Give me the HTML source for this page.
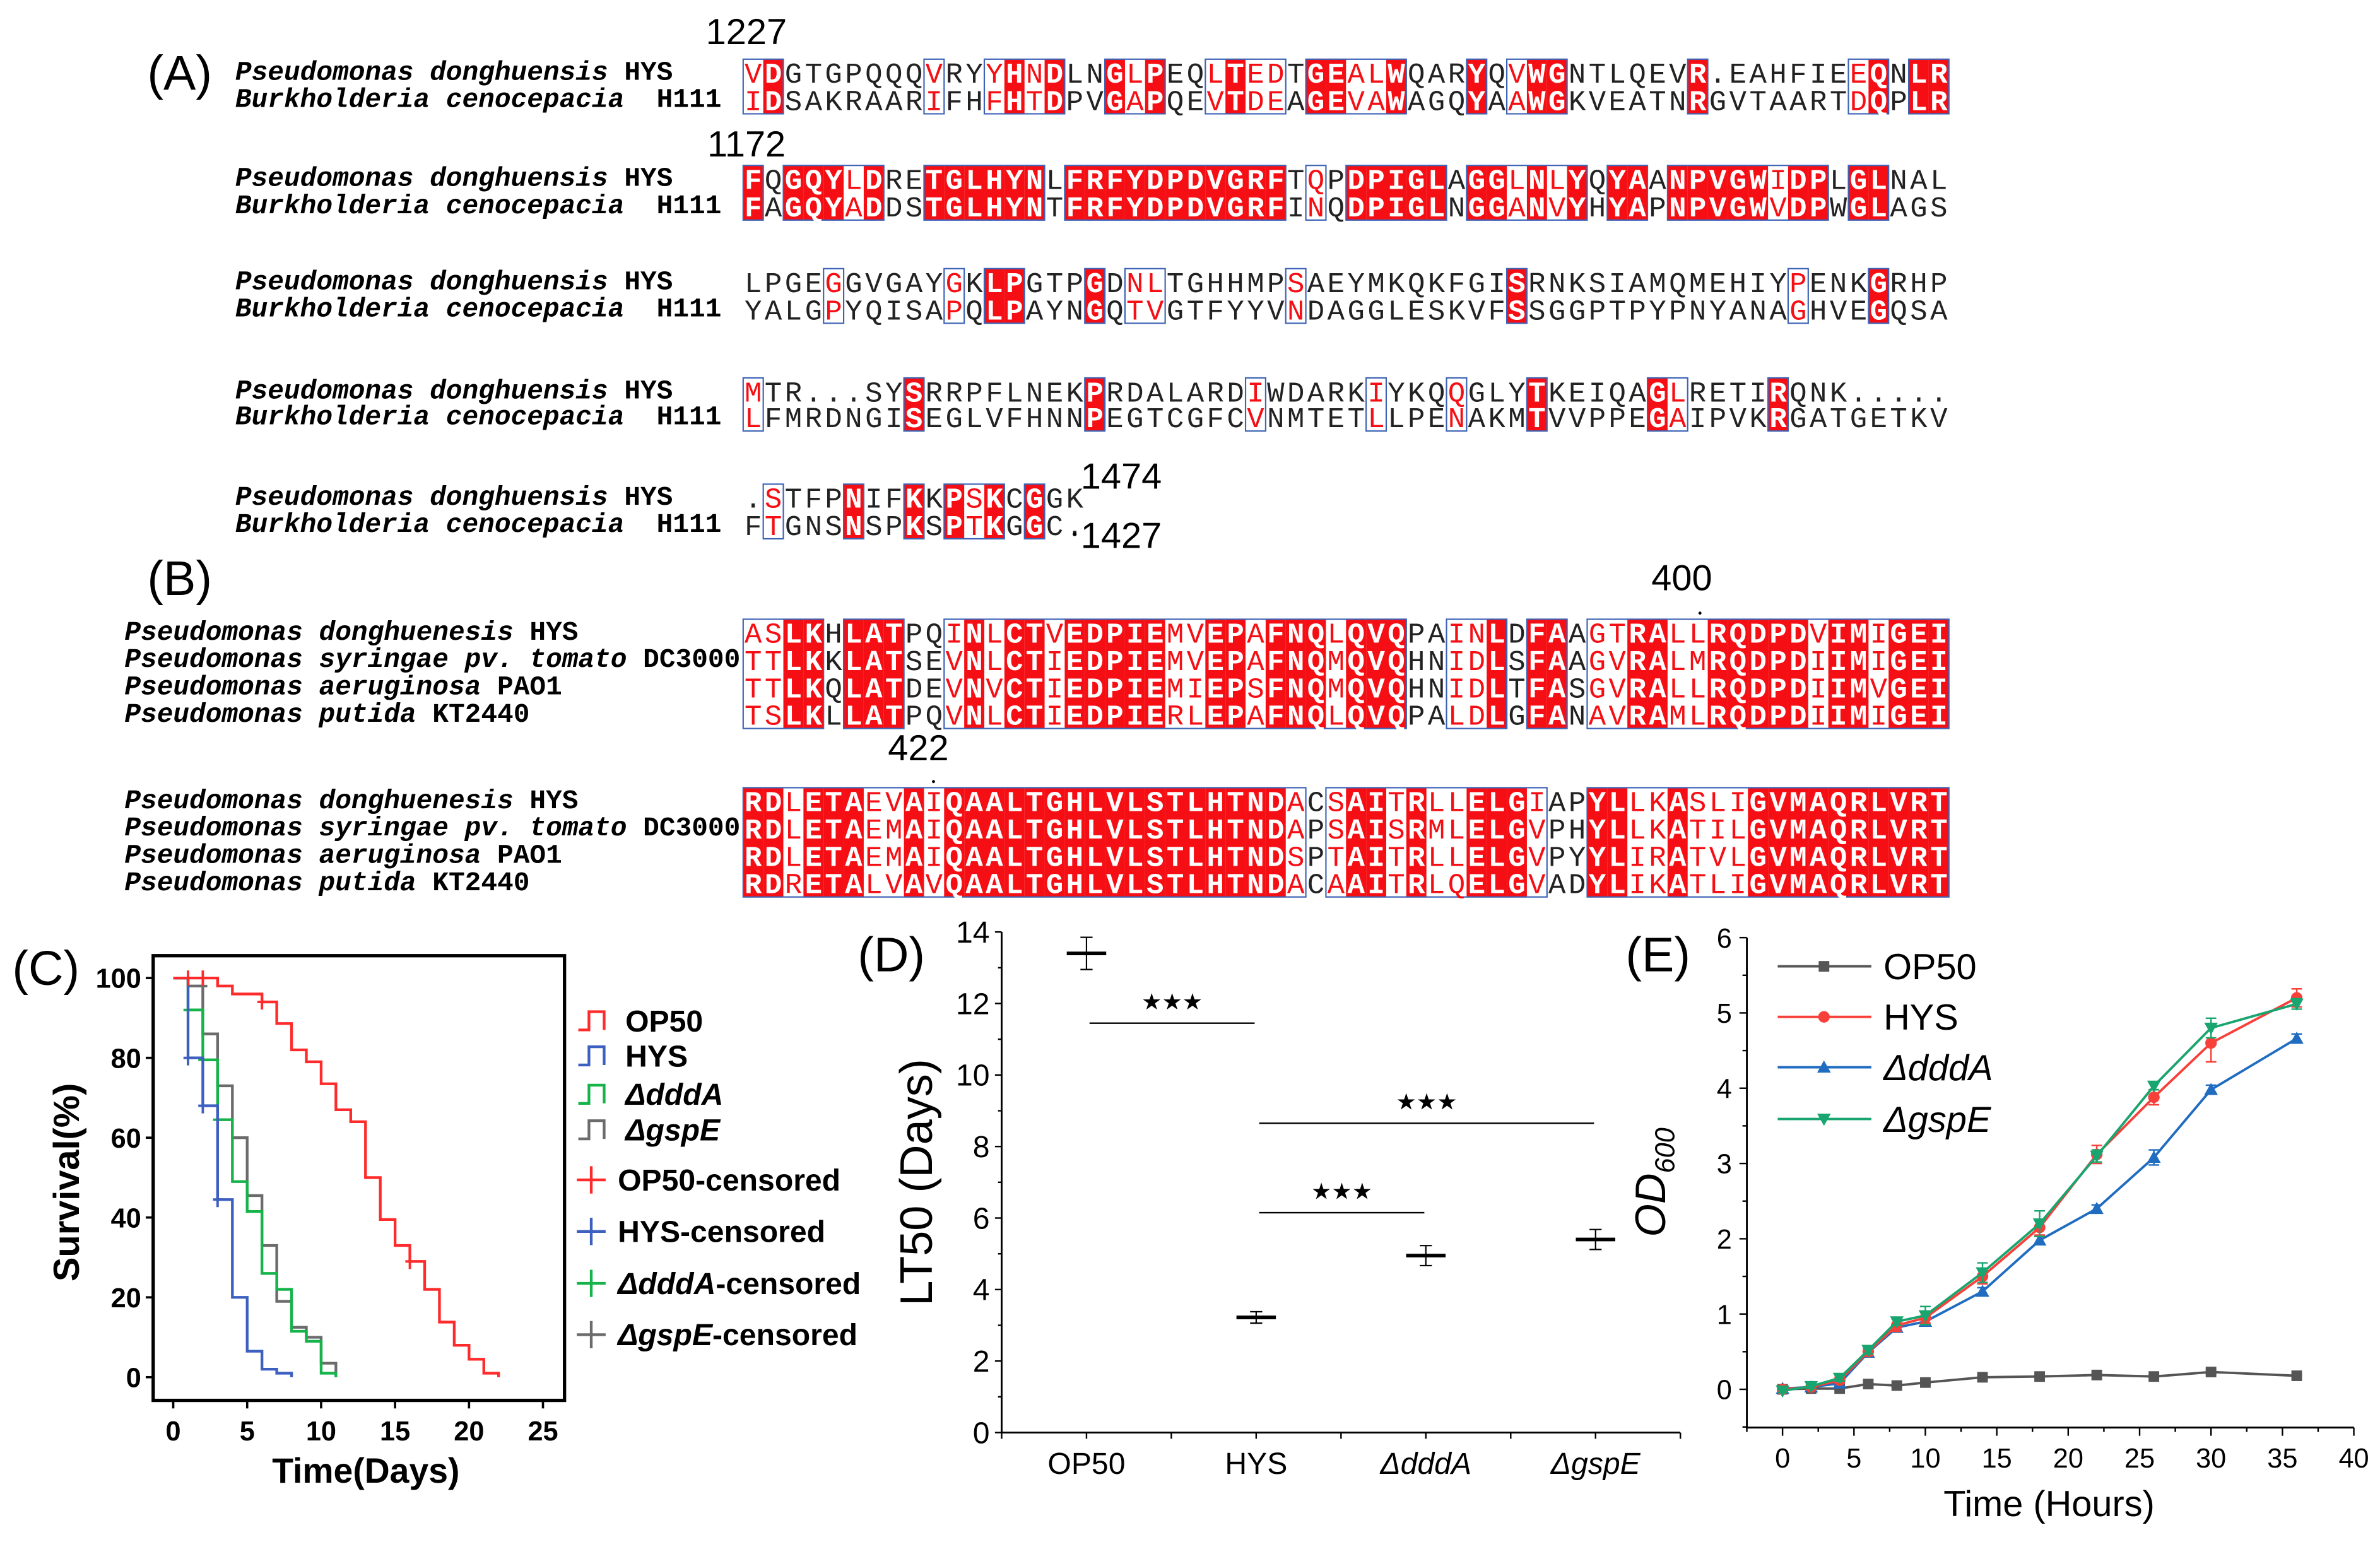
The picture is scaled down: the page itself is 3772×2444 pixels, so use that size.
<!DOCTYPE html>
<html><head><meta charset="utf-8">
<style>
html,body{margin:0;padding:0;background:#fff;}
svg{display:block;}
.mono{font-family:"Liberation Mono",monospace;}
.sans{font-family:"Liberation Sans",sans-serif;}
.narrow{font-family:"Liberation Sans Narrow","Liberation Sans",sans-serif;font-weight:bold;}
.pre{white-space:pre;}
</style></head>
<body>
<svg id="fig" width="3772" height="2444" viewBox="0 0 1568 1016" xmlns="http://www.w3.org/2000/svg">
<g id="alnA"></g>
<g id="alnB"></g>
<g id="chartC"></g>
<g id="chartD"></g>
<g id="chartE"></g>
<g class="sans" font-size="32" fill="#000">
<text x="97" y="59">(A)</text>
<text x="97" y="392">(B)</text>
<text x="8" y="649">(C)</text>
<text x="565" y="640">(D)</text>
<text x="1071" y="640">(E)</text>
</g>
<g class="sans" font-size="24" fill="#000">
<text x="465" y="29">1227</text>
<text x="466" y="103">1172</text>
<text x="712" y="322">1474</text>
<text x="712" y="361">1427</text>
<text x="1088" y="389">400</text>
<text x="585" y="501">422</text>
<circle cx="1120" cy="404" r="1"/>
<circle cx="615" cy="515" r="1"/>
<circle cx="708" cy="352" r="1.3"/>
</g>
</svg>
<script>
// ---------- Alignment data ----------
const alnAData = [
 {rows:["VDGTGPQQQVRYYHNDLNGLPEQLTEDTGEALWQARYQVWGNTLQEVR.EAHFIEEQNLR","IDSAKRAARIFHFHTDPVGAPQEVTDEAGEVAWAGQYAAWGKVEATNRGVTAARTDQPLR"],
  mask:"rR.......r..rRrR..RrR..rRrr.RRrrR...R.rRR......R.......rR.RR", ys:[48,66]},
 {rows:["FQGQYLDRETGLHYNLFRFYDPDVGRFTQPDPIGLAGGLNLYQYAANPVGWIDPLGLNAL","FAGQYADDSTGLHYNTFRFYDPDVGRFINQDPIGLNGGANVYHYAPNPVGWVDPWGLAGS"],
  mask:"R.RRRrR..RRRRRR.RRRRRRRRRRR.r.RRRRR.RRrRrR.RR.RRRRRrRR.RR...", ys:[118,136]},
 {rows:["LPGEGGVGAYGKLPGTPGDNLTGHHMPSAEYMKQKFGISRNKSIAMQMEHIYPENKGRHP","YALGPYQISAPQLPAYNGQTVGTFYYVNDAGGLESKVFSSGGPTPYPNYANAGHVEGQSA"],
  mask:"....r.....r.RR...R.rr......r..........R.............r...R...", ys:[186,204]},
 {rows:["MTR...SYSRRPFLNEKPRDALARDIWDARKIYKQQGLYTKEIQAGLRETIRQNK.....","LFMRDNGISEGLVFHNNPEGTCGFCVNMTETLLPENAKMTVVPPEGAIPVKRGATGETKV"],
  mask:"r.......R........R.......r.....r...r...R.....Rr....R........", ys:[258,275]},
 {rows:[".STFPNIFKKPSKCGGK","FTGNSNSPKSPTKGGC."],
  mask:".r...R..R.RrR.R..", ys:[328,346]}
];
const alnANames = [["Pseudomonas donghuensis ","HYS"],["Burkholderia cenocepacia  ","H111"]];
const alnBData = [
 {rows:["ASLKHLATPQINLCTVEDPIEMVEPAFNQLQVQPAINLDFAAGTRALLRQDPDVIMIGEI","TTLKKLATSEVNLCTIEDPIEMVEPAFNQMQVQHNIDLSFAAGVRALMRQDPDIIMIGEI","TTLKQLATDEVNVCTIEDPIEMIEPSFNQMQVQHNIDLTFASGVRALLRQDPDIIMVGEI","TSLKLLATPQVNLCTIEDPIERLEPAFNQLQVQPALDLGFANAVRAMLRQDPDIIMIGEI"],
  mask:"rrRR.RRR..rRrRRrRRRRRrrRRrRRRrRRR..rrR.RR.rrRRrrRRRRRrRRrRRR", ys:[417,435,453,471]},
 {rows:["RDLETAEVAIQAALTGHLVLSTLHTNDACSAITRLLELGIAPYLLKASLIGVMAQRLVRT","RDLETAEMAIQAALTGHLVLSTLHTNDAPSAISRMLELGVPHYLLKATILGVMAQRLVRT","RDLETAEMAIQAALTGHLVLSTLHTNDSPTAITRLLELGVPYYLIRATVLGVMAQRLVRT","RDRETALVAVQAALTGHLVLSTLHTNDACAAITRLQELGVADYLIKATLIGVMAQRLVRT"],
  mask:"RRrRRRrrRrRRRRRRRRRRRRRRRRRr.rRRrRrrRRRr..RRrrRrrrRRRRRRRRRR", ys:[528,546,564,582]}
];
const alnBNames = [["Pseudomonas donghuenesis ","HYS"],["Pseudomonas syringae pv. tomato ","DC3000"],["Pseudomonas aeruginosa ","PAO1"],["Pseudomonas putida ","KT2440"]];

const NS="http://www.w3.org/2000/svg";
function mk(tag, attrs, parent){const e=document.createElementNS(NS,tag);for(const k in attrs)e.setAttribute(k,attrs[k]);parent.appendChild(e);return e;}
const RED="#f50f14", BLUE="#3e63b5";
const colX0=489.6, colW=13.24;

function drawAlignment(g, data, names, nameX){
  data.forEach((blk,bi)=>{
    const top=blk.ys[0]-9, bot=blk.ys[blk.ys.length-1]+9;
    const m=blk.mask;
    for(let c=0;c<m.length;c++){
      if(m[c]==='R'){
        const r=mk('rect',{x:colX0+c*colW,y:top,width:colW,height:bot-top,fill:RED},g);
        
        
      }
    }
    let c=0;
    while(c<m.length){
      if(m[c]!=='.'){let s=c;while(c<m.length&&m[c]!=='.')c++;
        const b=mk('rect',{x:colX0+s*colW,y:top,width:(c-s)*colW,height:bot-top,fill:'none',stroke:BLUE,'stroke-width':0.9},g);
        
        
      } else c++;
    }
    blk.rows.forEach((seq,ri)=>{
      const y=blk.ys[ri]+6.5;
      for(let k=0;k<seq.length;k++){
        const cls=m[k];
        const t=mk('text',{x:colX0+k*colW+colW/2,y:y,'text-anchor':'middle','font-size':19,class:'mono',
          fill: cls==='R'?'#fff':(cls==='r'?RED:'#222'),'font-weight':cls==='R'?'bold':'normal'},g);
        t.textContent=seq[k];
        
        
      }
      const nm=mk('text',{x:nameX,y:blk.ys[ri]+4.5,'font-size':17.8,class:'mono pre','font-weight':'bold',fill:'#000'},g);
      const ts1=mk('tspan',{'font-style':'italic'},nm);ts1.textContent=names[ri][0];
      const ts2=mk('tspan',{},nm);ts2.textContent=names[ri][1];
      
      
    });
  });
}
drawAlignment(document.getElementById('alnA'), alnAData, alnANames, 155);
drawAlignment(document.getElementById('alnB'), alnBData, alnBNames, 82);

// ---------- Chart C data ----------
const survSeries = ["OP50","HYS","ΔdddA","ΔgspE"];
const survOP50T = [0,3,4,6,7,8,9,10,11,12,13,14,15,16,17,18,19,20,21,22];
const survOP50V = [100,98,96,94,88.6,82,79,73.5,67,64,50,39.5,33,29,22,13.8,8,4.5,1,0];
const survHYST = [0,1,2,3,4,5,6,7,8];
const survHYSV = [100,80,68,44.5,20,6.5,2,1,0];
const survDddAT = [0,1,2,3,4,5,6,7,8,9,10,11];
const survDddAV = [100,92,79.5,64.5,49,41.5,26,22,11.5,9,1,0];
const survGspET = [0,1,2,3,4,5,6,7,8,9,10,11];
const survGspEV = [100,98,86,73,60,45.5,33,19,12.5,10,3.5,0];
const censOP50 = [[1,100],[2,100],[6,94],[16,29]];
const censHYS = [[1,80],[2,68],[3,44.5]];
const censDddA = [[1,92],[2,79.5],[3,64.5]];
const censGspE = [[2,98]];
const survXTicks = [0,5,10,15,20,25];
const survYTicks = [0,20,40,60,80,100];

(function(){
  const g=document.getElementById('chartC');
  const xS=d=>114.1+d*9.744, yS=v=>907.4-v*2.63;
  const cols=["#ff2b2b","#3c5fc0","#15b34a","#6b6b6b"];
  const fr=mk('rect',{x:100.9,y:629.7,width:271,height:293,fill:'none',stroke:'#000','stroke-width':2.2},g);
  
  
  survYTicks.forEach(v=>{
    const l=mk('line',{x1:100.9,x2:96,y1:yS(v),y2:yS(v),stroke:'#000','stroke-width':1.5},g);
    
    
    const t=mk('text',{x:93,y:yS(v)+6.5,'text-anchor':'end','font-size':18,class:'narrow'},g);t.textContent=v;
    
    
  });
  survXTicks.forEach(v=>{
    const l=mk('line',{x1:xS(v),x2:xS(v),y1:922.8,y2:928,stroke:'#000','stroke-width':1.5},g);
    
    
    const t=mk('text',{x:xS(v),y:949,'text-anchor':'middle','font-size':18,class:'narrow'},g);t.textContent=v;
    
    
  });
  const xt=mk('text',{x:241,y:977,'text-anchor':'middle','font-size':23,class:'narrow'},g);xt.textContent="Time(Days)";
  
  
  const yt=mk('text',{x:0,y:0,'text-anchor':'middle','font-size':24,'font-weight':'bold',class:'sans',transform:'translate(52,779) rotate(-90)'},g);yt.textContent="Survival(%)";
  
  
  const TT=[survOP50T,survHYST,survDddAT,survGspET], VV=[survOP50V,survHYSV,survDddAV,survGspEV], CC=[censOP50,censHYS,censDddA,censGspE];
  [3,2,1,0].forEach(i=>{
    let d="M"+xS(TT[i][0])+","+yS(VV[i][0]);
    for(let k=1;k<TT[i].length;k++) d+=" H"+xS(TT[i][k])+" V"+yS(VV[i][k]);
    const p=mk('path',{d:d,fill:'none',stroke:cols[i],'stroke-width':1.8},g);
    
    
    CC[i].forEach(c=>{
      const m=mk('path',{d:`M${xS(c[0])},${yS(c[1])-5}V${yS(c[1])+5}M${xS(c[0])-3},${yS(c[1])}H${xS(c[0])+3}`,stroke:cols[i],'stroke-width':1.6,fill:'none'},g);
      
      
    });
  });
  const ly=[672.6,695.7,721,744.4], lyc=[777.4,811.4,845.6,879.4];
  for(let i=0;i<4;i++){
    const s=mk('path',{d:`M381,${ly[i]+6}H388V${ly[i]-6}H398V${ly[i]+6}`,fill:'none',stroke:cols[i],'stroke-width':1.8},g);
    
    
    const t=mk('text',{x:412,y:ly[i]+7,'font-size':20,class:'narrow','font-style':i>=2?'italic':'normal'},g);t.textContent=survSeries[i];
    
    
    const c=mk('path',{d:`M380,${lyc[i]}H399M389.5,${lyc[i]-9}V${lyc[i]+9}`,stroke:cols[i],'stroke-width':1.8,fill:'none'},g);
    
    
    const t2=mk('text',{x:407,y:lyc[i]+7,'font-size':20,class:'narrow'},g);
    const a=mk('tspan',{'font-style':i>=2?'italic':'normal'},t2);a.textContent=survSeries[i];
    const b=mk('tspan',{},t2);b.textContent="-censored";
    
    
  }
})();

// ---------- Chart D data ----------
const ltCats = ["OP50","HYS","ΔdddA","ΔgspE"];
const ltMeans = [13.4,3.22,4.95,5.4];
const ltErrs = [0.45,0.16,0.28,0.28];
const ltYTicks = [0,2,4,6,8,10,12,14];
const sigFrom = [0,1,1];
const sigTo = [1,3,2];
const sigLevel = [11.45,8.65,6.15];

(function(){
  const g=document.getElementById('chartD');
  const xS=i=>715.8+i*111.8, yS=v=>943.9-v*23.56;
  const ax=mk('path',{d:'M659.9,614V943.9H1107',fill:'none',stroke:'#000','stroke-width':1.2},g);
  
  
  for(let v=0;v<=14;v++){
    const maj=v%2===0;
    const l=mk('line',{x1:659.9,x2:maj?655.5:657.5,y1:yS(v),y2:yS(v),stroke:'#000','stroke-width':1},g);
    
    
  }
  ltYTicks.forEach(v=>{
    const t=mk('text',{x:652,y:yS(v)+7,'text-anchor':'end','font-size':20,class:'sans'},g);t.textContent=v;
    
    
  });
  for(let k=0;k<=8;k++){
    const x=659.9+k*55.9;
    const l=mk('line',{x1:x,x2:x,y1:943.9,y2:948,stroke:'#000','stroke-width':1},g);
    
    
  }
  ltCats.forEach((c,i)=>{
    const t=mk('text',{x:xS(i),y:971,'text-anchor':'middle','font-size':20,class:'sans','font-style':i>=2?'italic':'normal'},g);t.textContent=c;
    
    
    const x=xS(i), m=yS(ltMeans[i]), hi=yS(ltMeans[i]+ltErrs[i]), lo=yS(ltMeans[i]-ltErrs[i]);
    const e=mk('path',{d:`M${x},${hi}V${lo}M${x-4},${hi}H${x+4}M${x-4},${lo}H${x+4}`,stroke:'#000','stroke-width':0.9,fill:'none'},g);
    
    
    const b=mk('line',{x1:x-13,x2:x+13,y1:m,y2:m,stroke:'#000','stroke-width':2.4},g);
    
    
  });
  sigLevel.forEach((lv,k)=>{
    const x1=xS(sigFrom[k])+2, x2=xS(sigTo[k])-1;
    const l=mk('line',{x1:x1,x2:x2,y1:yS(lv),y2:yS(lv),stroke:'#000','stroke-width':1},g);
    
    
    const s=mk('text',{x:(x1+x2)/2,y:yS(lv)-9,'text-anchor':'middle','font-size':15,class:'sans'},g);s.textContent="★★★";
    
    
  });
  const yt=mk('text',{x:0,y:0,'text-anchor':'middle','font-size':30,class:'sans',transform:'translate(614,779) rotate(-90)'},g);yt.textContent="LT50 (Days)";
  
  
})();

// ---------- Chart E data ----------
const odHours = [0,2,4,6,8,10,14,18,22,26,30,36];
const odOP50 = [0,0.01,0.01,0.07,0.05,0.09,0.16,0.17,0.19,0.17,0.23,0.18];
const odHYS = [0,0.03,0.12,0.5,0.85,0.95,1.5,2.15,3.12,3.88,4.6,5.2];
const odDddA = [0.01,0.03,0.08,0.49,0.82,0.9,1.3,1.98,2.4,3.08,3.98,4.66];
const odGspE = [-0.02,0.04,0.15,0.52,0.9,0.98,1.55,2.2,3.1,4.03,4.8,5.12];
const errOP50 = [0.01,0.01,0.01,0.02,0.02,0.02,0.02,0.02,0.02,0.02,0.03,0.02];
const errHYS = [0.02,0.03,0.04,0.05,0.08,0.07,0.1,0.1,0.12,0.1,0.25,0.12];
const errDddA = [0.02,0.03,0.04,0.05,0.05,0.05,0.05,0.05,0.05,0.1,0.06,0.06];
const errGspE = [0.02,0.03,0.04,0.05,0.05,0.12,0.13,0.17,0.08,0.05,0.13,0.07];
const odSeries = ["OP50","HYS","ΔdddA","ΔgspE"];
const odXTicks = [0,5,10,15,20,25,30,35,40];
const odYTicks = [0,1,2,3,4,5,6];

(function(){
  const g=document.getElementById('chartE');
  const xS=h=>1174.4+h*9.41, yS=v=>915.4-v*49.6;
  const cols=["#555555","#f7403a","#1f6cc0","#19a56f"];
  const ax=mk('path',{d:`M1150.9,${yS(6)}V940.6H1550.9`,fill:'none',stroke:'#000','stroke-width':1.2},g);
  
  
  for(let v=-0.5;v<=6.01;v+=0.5){
    const maj=Math.abs(v-Math.round(v))<1e-6;
    const l=mk('line',{x1:1150.9,x2:maj?1146:1148,y1:yS(v),y2:yS(v),stroke:'#000','stroke-width':1},g);
    
    
  }
  odYTicks.forEach(v=>{
    const t=mk('text',{x:1141,y:yS(v)+6.5,'text-anchor':'end','font-size':18,class:'sans'},g);t.textContent=v;
    
    
  });
  for(let h=-2.5;h<=40.01;h+=2.5){
    const maj=Math.abs(h/5-Math.round(h/5))<1e-6;
    const l=mk('line',{x1:xS(h),x2:xS(h),y1:940.6,y2:maj?946:943.5,stroke:'#000','stroke-width':1},g);
    
    
  }
  odXTicks.forEach(v=>{
    const t=mk('text',{x:xS(v),y:967,'text-anchor':'middle','font-size':18,class:'sans'},g);t.textContent=v;
    
    
  });
  const xt=mk('text',{x:1350,y:999,'text-anchor':'middle','font-size':24,class:'sans'},g);xt.textContent="Time (Hours)";
  
  
  const yt=mk('text',{x:0,y:0,'text-anchor':'middle','font-size':28,class:'sans','font-style':'italic',transform:'translate(1097,779) rotate(-90)'},g);
  const a=mk('tspan',{},yt);a.textContent="OD";
  const b=mk('tspan',{'font-size':18,dy:6},yt);b.textContent="600";
  
  
  function marker(k,x,y,parent){
    let e;
    if(k===0) e=mk('rect',{x:x-3.5,y:y-3.5,width:7,height:7,fill:cols[0]},parent);
    else if(k===1) e=mk('circle',{cx:x,cy:y,r:3.8,fill:cols[1]},parent);
    else if(k===2) e=mk('path',{d:`M${x},${y-4.5}L${x+4.5},${y+3.5}L${x-4.5},${y+3.5}Z`,fill:cols[2]},parent);
    else e=mk('path',{d:`M${x},${y+4.5}L${x+4.5},${y-3.5}L${x-4.5},${y-3.5}Z`,fill:cols[3]},parent);
    return e;
  }
  const VV=[odOP50,odHYS,odDddA,odGspE], EE=[errOP50,errHYS,errDddA,errGspE];
  [0,2,1,3].forEach(i=>{
    const pts=odHours.map((h,k)=>xS(h)+","+yS(VV[i][k])).join(" ");
    const pl=mk('polyline',{points:pts,fill:'none',stroke:cols[i],'stroke-width':1.6},g);
    
    
    odHours.forEach((h,k)=>{
      const x=xS(h), hi=yS(VV[i][k]+EE[i][k]), lo=yS(VV[i][k]-EE[i][k]);
      const e=mk('path',{d:`M${x},${hi}V${lo}M${x-3.5},${hi}H${x+3.5}M${x-3.5},${lo}H${x+3.5}`,stroke:cols[i],'stroke-width':1,fill:'none'},g);
      
      
      const m=marker(i,x,yS(VV[i][k]),g);
      
      
    });
  });
  const ly=[636.7,670,703.2,737.3];
  for(let i=0;i<4;i++){
    const l=mk('line',{x1:1171.2,x2:1232.9,y1:ly[i],y2:ly[i],stroke:cols[i],'stroke-width':1.6},g);
    
    
    const m=marker(i,1201.7,ly[i],g);
    
    
    const t=mk('text',{x:1240.9,y:ly[i]+8.5,'font-size':24,class:'sans','font-style':i>=2?'italic':'normal'},g);t.textContent=odSeries[i];
    
    
  }
})();
</script>
</body></html>
